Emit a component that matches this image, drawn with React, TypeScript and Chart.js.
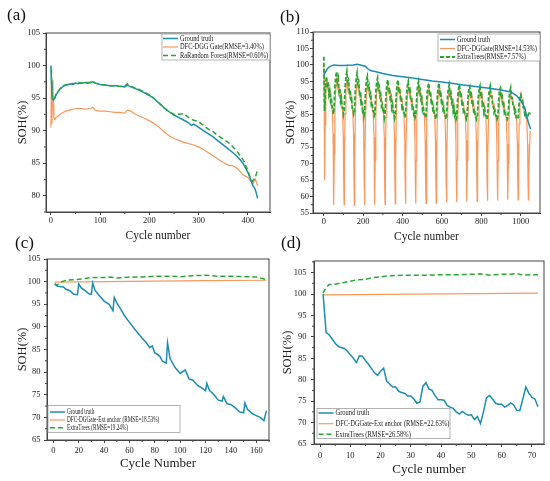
import { useEffect, useRef } from 'react';
import { Chart, registerables } from 'chart.js';
import type { ChartConfiguration, Plugin } from 'chart.js';

Chart.register(...registerables);

const BLUE = '#1b8db4';
const ORANGE = '#f8985c';
const GREEN = '#27a833';
const SERIF = '"Liberation Serif", "Times New Roman", serif';

type XY = [number, number];

// ---------- (a) ----------
const aGround: XY[] = [[0, 100], [1, 97.5], [2, 95.5], [3, 94.9], [5, 94.7], [8, 95], [10, 95.4], [13, 95.8], [16, 96.2], [20, 96.5], [25, 96.8], [30, 97], [35, 97.1], [40, 97.2], [45, 97.1], [50, 97.3], [55, 97.2], [60, 97.3], [65, 97.3], [70, 97.4], [75, 97.3], [80, 97.4], [85, 97.5], [90, 97.3], [95, 97.2], [100, 97.1], [110, 97], [120, 96.9], [130, 96.9], [140, 96.8], [150, 96.7], [155, 97], [160, 96.8], [165, 96.7], [170, 96.5], [180, 96.2], [190, 95.8], [200, 95.4], [210, 94.9], [220, 94.2], [230, 93.5], [240, 92.9], [250, 92.4], [260, 92], [270, 91.6], [280, 91.2], [285, 90.8], [290, 91], [300, 90.5], [310, 90], [320, 89.5], [330, 89], [340, 88.4], [350, 87.8], [360, 87.2], [370, 86.6], [380, 85.9], [390, 85], [400, 83.6], [405, 82.6], [410, 81.6], [415, 81], [420, 79.6]];
const aDfc: XY[] = [[0, 90.5], [1, 97.5], [2, 91], [3, 95], [4, 97.8], [5, 94], [6, 92], [8, 91.7], [10, 92], [15, 92.3], [20, 92.6], [30, 93], [40, 93.2], [50, 93.4], [60, 93.4], [70, 93.3], [80, 93.4], [85, 93.6], [90, 93.1], [100, 93], [110, 93], [120, 92.9], [130, 92.8], [140, 92.8], [150, 92.7], [155, 93.1], [160, 93.1], [170, 92.6], [180, 92.2], [190, 91.9], [200, 91.5], [210, 91.1], [220, 90.5], [230, 89.8], [240, 89.2], [250, 88.8], [260, 88.5], [270, 88.2], [280, 88], [290, 87.8], [300, 87.5], [310, 87.1], [320, 86.6], [330, 86.1], [340, 85.6], [350, 85.1], [360, 84.7], [370, 84.6], [380, 84.1], [390, 83.2], [400, 82.8], [405, 82.3], [410, 81.8], [415, 82.6], [420, 81.5]];
const aForest: XY[] = [[1, 99.5], [2, 96], [3, 95], [5, 94.8], [8, 95.1], [10, 95.6], [15, 96], [20, 96.6], [25, 96.9], [30, 97], [40, 97.2], [50, 97.3], [55, 97.5], [60, 97.3], [70, 97.4], [80, 97.4], [85, 97.6], [90, 97.3], [100, 97.1], [110, 97], [120, 96.9], [130, 96.9], [140, 96.8], [150, 96.8], [155, 97.2], [160, 96.8], [170, 96.6], [180, 96.3], [190, 95.9], [200, 95.5], [210, 94.9], [220, 94.2], [230, 93.5], [240, 92.9], [250, 92.5], [260, 92.5], [270, 92.6], [280, 92], [290, 91.6], [300, 91.4], [310, 90.8], [320, 90.2], [330, 89.8], [340, 89.2], [350, 88.7], [360, 88.2], [370, 87.5], [380, 86.6], [390, 85.6], [395, 84.8], [400, 83.8], [405, 82.8], [410, 82.2], [415, 82.8], [420, 84]];

// ---------- (b) ----------
const bGround: XY[] = [[0, 97], [10, 98], [20, 99], [30, 99.5], [50, 100], [75, 99.8], [100, 99.8], [125, 99.9], [150, 100], [170, 100.2], [190, 99.9], [210, 99.6], [225, 98.7], [240, 98.2], [260, 98], [300, 97.4], [350, 96.8], [400, 96.4], [450, 96], [500, 95.6], [550, 95.1], [600, 94.8], [650, 94.4], [700, 94], [750, 93.6], [800, 93.2], [850, 92.8], [900, 92.4], [950, 91.8], [980, 90.6], [1000, 89.2], [1020, 87], [1030, 84.5], [1040, 82.3], [1050, 80.5]];
// cycle where each deep dip of the predictions bottoms out
const bDips = [51, 103, 155, 207, 259, 311, 363, 415, 467, 519, 571, 623, 675, 727, 779, 831, 883, 935, 987, 1039];
const bDfcHead: XY[] = [[0, 100.5], [1, 96], [3, 80], [5, 65], [7, 82], [10, 92], [15, 95], [20, 93], [25, 94], [30, 91], [35, 92], [39, 89]];
const bDfcOffsets = [-8, -4, -2, 0, 2, 5, 9, 14, 19, 24, 29, 34, 39];
const bDfcRows = [
  [86, 79, 65, 57.5, 73, 85, 92, 95.5, 93, 94, 91, 92, 89],
  [86, 78, 65, 57.5, 72, 85, 92, 95.5, 92.5, 93.5, 90.5, 91.5, 88.5],
  [86, 79, 65, 57.3, 72, 84, 92, 95, 92.5, 93.5, 90, 91, 88],
  [85.5, 78, 64.5, 57.2, 72, 84, 91, 94.5, 92, 93, 89.5, 90.5, 87.5],
  [85, 78, 64.5, 57.5, 71, 84, 91, 94.5, 92, 92.5, 89.5, 90, 87.5],
  [85, 78, 65, 57.6, 72, 84, 91, 94, 91.5, 92.5, 89, 90, 87],
  [85, 78, 65, 57.8, 72, 84, 91, 94, 91.5, 92.5, 89, 90, 87],
  [84.5, 77, 64.5, 57.8, 71, 83, 90.5, 93.5, 91, 92, 88.5, 89.5, 86.5],
  [84.5, 77, 65, 57.8, 71, 83, 90.5, 93.5, 91, 92, 88.5, 89.5, 86.5],
  [84.5, 77, 65, 57.9, 71, 83, 90, 93.5, 91, 91.5, 88.5, 89, 86.5],
  [84.5, 77, 65, 58, 71, 83, 90, 93, 90.5, 91.5, 88, 89, 86],
  [84.5, 77, 65, 58.2, 71, 83, 90, 93, 90.5, 91.5, 88, 89, 86],
  [84, 77, 65, 58.3, 71, 83, 90, 93, 90.5, 91, 88, 88.5, 86],
  [84, 77, 65, 58.5, 71, 83, 89.5, 92.5, 90, 91, 87.5, 88.5, 85.5],
  [84, 77, 65, 58.5, 71, 83, 89.5, 92.5, 90, 91, 87.5, 88.5, 85.5],
  [84, 77, 65, 58.7, 71, 82, 89.5, 92.5, 90, 90.5, 87.5, 88, 85.5],
  [84, 76, 65, 58.8, 71, 82, 89, 92, 89.5, 90.5, 87, 88, 85],
  [83.5, 76, 65, 59, 70, 82, 89, 92, 89.5, 90, 87, 87.5, 85],
  [83.5, 76, 65, 59, 70, 82, 88.5, 91, 89, 89.5, 86.5, 87, 85],
  [83, 76, 65, 59, 66, 73, 80],
];
const bTreesHead: XY[] = [[0, 102.5], [1, 97], [2, 92], [4, 86], [7, 90], [10, 95], [14, 96.5], [18, 93], [22, 95], [26, 91], [30, 92], [34, 89], [38, 90], [42, 87]];
const bTreesOffsets = [-6, -3, 0, 3, 6, 10, 14, 18, 22, 26, 30, 34, 38, 42];
const bTreesRows = [
  [87, 85, 86, 90, 94, 96.5, 98, 95, 96, 92, 93, 89, 90, 87],
  [87, 85, 86, 90, 94, 96.5, 98, 95, 95.5, 92, 92.5, 89, 89.5, 86.5],
  [86.5, 85, 85.5, 89.5, 93.5, 96, 97.5, 94.5, 95, 91.5, 92, 88.5, 89, 86],
  [86.5, 84.5, 85.5, 89, 93, 95.5, 96.5, 93.5, 94, 91, 91.5, 88, 88.5, 86],
  [86, 84.5, 85, 89, 92.5, 95, 96, 93, 93.5, 90.5, 91, 87.5, 88, 85.5],
  [86, 84, 85, 88.5, 92, 94.5, 95.5, 92.5, 93, 90, 90.5, 87, 88, 85.5],
  [85.5, 84, 85, 88.5, 92, 94.5, 95.5, 92.5, 93, 90, 90.5, 87, 87.5, 85.5],
  [85.5, 84, 85, 88, 91.5, 94, 95, 92, 92.5, 89.5, 90, 87, 87.5, 85],
  [85.5, 84, 84.5, 88, 91.5, 94, 95, 92, 92.5, 89.5, 90, 86.5, 87.5, 85],
  [85, 84, 84.5, 88, 91.5, 93.5, 94.5, 91.5, 92, 89, 89.5, 86.5, 87, 85],
  [85, 83.5, 84.5, 87.5, 91, 93.5, 94.5, 91.5, 92, 89, 89.5, 86.5, 87, 85],
  [85, 83.5, 84.5, 87.5, 91, 93, 94, 91, 91.5, 88.5, 89, 86, 87, 84.5],
  [85, 83.5, 84, 87.5, 91, 93, 94, 91, 91.5, 88.5, 89, 86, 86.5, 84.5],
  [84.5, 83.5, 84, 87, 90.5, 93, 93.5, 90.5, 91, 88, 88.5, 86, 86.5, 84.5],
  [84.5, 83.5, 84, 87, 90.5, 92.5, 93.5, 90.5, 91, 88, 88.5, 85.5, 86.5, 84.5],
  [84.5, 83.5, 84, 87, 90.5, 92.5, 93.5, 90.5, 90.5, 88, 88, 85.5, 86, 84.5],
  [84.5, 83.5, 84, 86.5, 90, 92.5, 93, 90, 90.5, 87.5, 88, 85.5, 86, 84.5],
  [84.5, 83.5, 84, 86.5, 90, 92, 93, 90, 90, 87.5, 87.5, 85.5, 86, 84],
  [84, 83.5, 84, 86.5, 89, 90.5, 91, 89.5, 89, 87, 87, 85, 85.5, 84],
  [84, 84.5, 85, 85.5, 85, 85.5],
];

// ---------- (c) ----------
const cGround: XY[] = [[1, 99.5], [3, 99], [5, 98.9], [8, 98.8], [10, 98.3], [13, 98], [16, 97.2], [19, 97.1], [20, 99.5], [22, 98.6], [25, 98], [28, 97.3], [30, 97.2], [31, 99.7], [33, 98], [36, 97], [40, 95.7], [44, 95], [47, 93.6], [48, 96.5], [50, 95.3], [53, 94], [56, 92.5], [60, 91], [65, 89.2], [70, 87.5], [73, 86.6], [76, 85.4], [78, 85.8], [80, 84.3], [84, 83.5], [86, 82.4], [89, 82], [90, 86.5], [92, 83], [96, 81], [100, 79.7], [104, 80.5], [107, 78.5], [110, 78.2], [114, 77], [117, 76.5], [120, 75.9], [121, 77.5], [123, 76], [127, 74.9], [130, 73.8], [133, 73.6], [134, 74.6], [137, 73], [140, 72.8], [143, 72.2], [147, 71.2], [150, 71], [151, 73.2], [153, 71.8], [157, 70.8], [160, 70.4], [163, 70], [166, 69.3], [168, 71.5]];
const cDfc: XY[] = [[1, 99.9], [40, 100], [80, 100.1], [120, 100.2], [168, 100.3]];
const cTrees: XY[] = [[1, 99.5], [3, 99.2], [5, 99.8], [10, 100.3], [15, 100.4], [20, 100.5], [25, 100.7], [30, 100.9], [40, 100.9], [45, 101], [50, 100.8], [55, 100.9], [60, 101], [70, 101], [80, 101.2], [90, 101.2], [100, 101.1], [110, 101.3], [120, 101.4], [130, 101.2], [140, 101.2], [150, 101.1], [160, 101], [165, 100.7], [168, 100.4]];

// ---------- (d) ----------
const dGround: XY[] = [[1, 100], [2, 91], [3, 90.5], [4, 89.5], [5, 88.5], [6, 87.8], [7, 87.5], [8, 87.3], [9, 86.7], [10, 85.8], [11, 85], [12, 84], [13, 85.6], [14, 85.5], [15, 84.5], [16, 83.6], [17, 82.6], [18, 81.6], [19, 81], [20, 82], [21, 82.7], [22, 79.7], [23, 79], [24, 78.3], [25, 78.3], [26, 77.3], [27, 77], [28, 76.8], [29, 76.2], [30, 76.2], [31, 75.5], [32, 74.5], [33, 74.8], [34, 78.5], [35, 79.3], [36, 77.8], [37, 77.5], [38, 76.3], [39, 75.3], [40, 75.3], [41, 75.2], [42, 74], [43, 73.6], [44, 73.3], [45, 72.5], [46, 72], [47, 72.6], [48, 72.1], [49, 71.7], [50, 71.8], [51, 70.7], [52, 71.4], [53, 69.8], [54, 72.5], [55, 75.8], [56, 76.3], [57, 75.5], [58, 74.5], [59, 74.3], [60, 74.3], [61, 73.6], [62, 74], [63, 74.6], [64, 74.1], [65, 72.9], [66, 72.8], [67, 75.5], [68, 78.3], [69, 76.8], [70, 75.9], [71, 75.5], [72, 73.7]];
const dDfc: XY[] = [[1, 99.8], [72, 100.2]];
const dTrees: XY[] = [[1, 100.2], [2, 101.5], [3, 102.2], [5, 102.3], [8, 102.7], [10, 103], [12, 103.3], [15, 103.4], [17, 103.8], [20, 104], [22, 104.2], [25, 104.3], [30, 104.4], [35, 104.4], [40, 104.5], [45, 104.5], [50, 104.6], [53, 104.7], [56, 104.4], [60, 104.6], [63, 104.6], [65, 104.8], [67, 104.4], [70, 104.5], [72, 104.5]];

function withDips(head: XY[], offsets: number[], rows: number[][]): XY[] {
  const pts: XY[] = [...head];
  rows.forEach((row, i) => {
    row.forEach((y, j) => pts.push([bDips[i] + offsets[j], y]));
  });
  return pts;
}

interface Series { label: string; color: string; width: number; dash?: number[]; order: number; points: XY[] }
interface LegendBox { x: number; y: number; w: number; h: number; rows: number[]; line: [number, number]; textX: number; size: number; squeeze: number }
interface PanelSpec {
  series: Series[];
  x: { min: number; max: number; step: number; title: string; titleSize: number; titlePad: number; tickPad: number; height: number };
  y: { min: number; max: number; step: number; titlePad: number; tickPad: number; width: number };
  pad: { top: number; right: number };
  legend: LegendBox;
}

const framePlugin: Plugin<'line'> = {
  id: 'frame',
  afterDraw(chart) {
    const { ctx, chartArea: a } = chart;
    const xs = chart.scales.x;
    const ys = chart.scales.y;
    ctx.save();
    ctx.strokeStyle = '#444';
    ctx.lineWidth = 1;
    ctx.strokeRect(a.left, a.top, a.right - a.left, a.bottom - a.top);
    // minor ticks halfway between the labelled ones
    ctx.beginPath();
    const xStep = xs.ticks[1].value - xs.ticks[0].value;
    for (let v = xs.ticks[0].value - xStep / 2; v <= xs.max; v += xStep) {
      if (v < xs.min) continue;
      const px = xs.getPixelForValue(v);
      ctx.moveTo(px, a.bottom);
      ctx.lineTo(px, a.bottom + 2);
    }
    const yStep = ys.ticks[1].value - ys.ticks[0].value;
    for (let v = ys.ticks[0].value - yStep / 2; v <= ys.max; v += yStep) {
      if (v < ys.min) continue;
      const py = ys.getPixelForValue(v);
      ctx.moveTo(a.left, py);
      ctx.lineTo(a.left - 2, py);
    }
    ctx.stroke();
    ctx.restore();
  },
};

function boxLegend(box: LegendBox): Plugin<'line'> {
  return {
    id: 'boxLegend',
    afterDraw(chart) {
      const { ctx } = chart;
      ctx.save();
      ctx.fillStyle = '#fff';
      ctx.fillRect(box.x, box.y, box.w, box.h);
      ctx.strokeStyle = '#a0a0a0';
      ctx.lineWidth = 0.8;
      ctx.strokeRect(box.x, box.y, box.w, box.h);
      chart.data.datasets.forEach((ds: any, i) => {
        const y = box.rows[i];
        ctx.strokeStyle = ds.borderColor;
        ctx.lineWidth = ds.borderWidth;
        ctx.setLineDash(ds.borderDash || []);
        ctx.beginPath();
        ctx.moveTo(box.line[0], y);
        ctx.lineTo(box.line[1], y);
        ctx.stroke();
        ctx.setLineDash([]);
        ctx.save();
        ctx.translate(box.textX, y);
        ctx.scale(box.squeeze, 1);
        ctx.fillStyle = '#222';
        ctx.font = `${box.size}px ${SERIF}`;
        ctx.textBaseline = 'middle';
        ctx.fillText(ds.label, 0, 0);
        ctx.restore();
      });
      ctx.restore();
    },
  };
}

function makeConfig(p: PanelSpec): ChartConfiguration<'line'> {
  const tickFont = { family: SERIF, size: 8.5 };
  const plain = (v: string | number) => String(v);
  return {
    type: 'line',
    data: {
      datasets: p.series.map(s => ({
        label: s.label,
        data: s.points.map(([x, y]) => ({ x, y })),
        borderColor: s.color,
        backgroundColor: s.color,
        borderWidth: s.width,
        borderDash: s.dash ?? [],
        pointRadius: 0,
        tension: 0,
        order: s.order,
      })),
    },
    options: {
      animation: false,
      responsive: true,
      maintainAspectRatio: false,
      layout: { padding: { left: 0, top: p.pad.top, right: p.pad.right, bottom: 0 } },
      plugins: { legend: { display: false }, tooltip: { enabled: false } },
      scales: {
        x: {
          type: 'linear',
          min: p.x.min,
          max: p.x.max,
          ticks: { stepSize: p.x.step, includeBounds: false, padding: p.x.tickPad, font: tickFont, color: '#222', maxRotation: 0, callback: plain },
          grid: { drawOnChartArea: false, tickLength: 3, color: '#444' },
          border: { display: true, color: '#444' },
          title: { display: true, text: p.x.title, color: '#222', font: { family: SERIF, size: p.x.titleSize }, padding: { top: 0, bottom: p.x.titlePad } },
          afterFit: (s: any) => { s.height = p.x.height; },
        },
        y: {
          type: 'linear',
          min: p.y.min,
          max: p.y.max,
          ticks: { stepSize: p.y.step, includeBounds: false, padding: p.y.tickPad, font: tickFont, color: '#222', callback: plain },
          grid: { drawOnChartArea: false, tickLength: 3, color: '#444' },
          border: { display: true, color: '#444' },
          title: { display: true, text: 'SOH(%)', color: '#222', font: { family: SERIF, size: 12.5 }, padding: { top: p.y.titlePad, bottom: 0 } },
          afterFit: (s: any) => { s.width = p.y.width; },
        },
      },
    },
    plugins: [framePlugin, boxLegend(p.legend)],
  };
}

const panelA: PanelSpec = {
  series: [
    { label: 'Ground truth', color: BLUE, width: 1.5, order: 1, points: aGround },
    { label: 'DFC-DGG Gate(RMSE=3.40%)', color: ORANGE, width: 1.2, order: 2, points: aDfc },
    { label: 'RaRandom Forest(RMSE=0.60%)', color: GREEN, width: 1.5, dash: [5, 3], order: 0, points: aForest },
  ],
  x: { min: -10, max: 445, step: 100, title: 'Cycle number', titleSize: 11.5, titlePad: 2, tickPad: 1, height: 33 },
  y: { min: 77.5, max: 105, step: 5, titlePad: 15, tickPad: 3, width: 46 },
  pad: { top: 33, right: 5 },
  legend: { x: 162, y: 34, w: 108, h: 26, rows: [38.5, 47, 55.5], line: [163, 178], textX: 180, size: 8, squeeze: 0.8 },
};

const panelB: PanelSpec = {
  series: [
    { label: 'Ground truth', color: BLUE, width: 1.5, order: 0, points: bGround },
    { label: 'DFC-DGGate(RMSE=14.53%)', color: ORANGE, width: 1.2, order: 2, points: withDips(bDfcHead, bDfcOffsets, bDfcRows) },
    { label: 'ExtraTrees(RMSE=7.57%)', color: GREEN, width: 1.8, dash: [4, 2], order: 1, points: withDips(bTreesHead, bTreesOffsets, bTreesRows) },
  ],
  x: { min: -55, max: 1098, step: 200, title: 'Cycle number', titleSize: 11.5, titlePad: 1, tickPad: 1, height: 32 },
  y: { min: 55, max: 110, step: 5, titlePad: 8, tickPad: 1, width: 38 },
  pad: { top: 32, right: 10 },
  legend: { x: 163, y: 34, w: 102, h: 27, rows: [39.5, 48.5, 57], line: [165, 180], textX: 182, size: 8, squeeze: 0.79 },
};

const panelC: PanelSpec = {
  series: [
    { label: 'Ground truth', color: BLUE, width: 1.5, order: 0, points: cGround },
    { label: 'DFC-DGGate-Ext anchor (RMSE=18.53%)', color: ORANGE, width: 1.2, order: 2, points: cDfc },
    { label: 'ExtraTrees (RMSE=19.24%)', color: GREEN, width: 1.5, dash: [5, 3], order: 1, points: cTrees },
  ],
  x: { min: -5, max: 170, step: 20, title: 'Cycle Number', titleSize: 13, titlePad: 10, tickPad: 3, height: 41 },
  y: { min: 65, max: 105, step: 5, titlePad: 15.5, tickPad: 3.5, width: 47 },
  pad: { top: 14, right: 6 },
  legend: { x: 48, y: 160.5, w: 132, h: 27, rows: [167, 175, 182.7], line: [50, 65], textX: 67, size: 7.5, squeeze: 0.7 },
};

const panelD: PanelSpec = {
  series: [
    { label: 'Ground truth', color: BLUE, width: 1.5, order: 0, points: dGround },
    { label: 'DFC-DGGate-Ext anchor (RMSE=22.63%)', color: ORANGE, width: 1.2, order: 2, points: dDfc },
    { label: 'ExtraTrees (RMSE=26.58%)', color: GREEN, width: 1.5, dash: [5, 3], order: 1, points: dTrees },
  ],
  x: { min: -2, max: 74, step: 10, title: 'Cycle number', titleSize: 13, titlePad: 4, tickPad: 4, height: 37 },
  y: { min: 65, max: 107.7, step: 5, titlePad: 5.5, tickPad: 4.5, width: 39 },
  pad: { top: 16, right: 6 },
  legend: { x: 42, y: 163.5, w: 133, h: 30, rows: [168, 178.7, 189.3], line: [43.5, 58.5], textX: 60.5, size: 9, squeeze: 0.72 },
};

function Panel({ spec, left, top, width, height }: { spec: PanelSpec; left: number; top: number; width: number; height: number }) {
  const canvasRef = useRef<HTMLCanvasElement>(null);
  const chartRef = useRef<Chart<'line'> | null>(null);

  useEffect(() => {
    if (!canvasRef.current) return;
    if (chartRef.current) chartRef.current.destroy();
    chartRef.current = new Chart(canvasRef.current, makeConfig(spec));
    return () => {
      chartRef.current?.destroy();
      chartRef.current = null;
    };
  }, [spec]);

  return (
    <div style={{ position: 'absolute', left, top, width, height }}>
      <canvas ref={canvasRef} />
    </div>
  );
}

const labelStyle = { position: 'absolute' as const, fontFamily: SERIF, fontSize: 17, lineHeight: '17px', color: '#111' };

export default function App() {
  return (
    <div style={{ position: 'fixed', left: 0, top: 0, width: 550, height: 481, background: '#fff', overflow: 'hidden' }}>
      <Panel spec={panelA} left={0} top={0} width={275} height={245} />
      <Panel spec={panelB} left={275} top={0} width={275} height={245} />
      <Panel spec={panelC} left={0} top={245} width={275} height={236} />
      <Panel spec={panelD} left={275} top={245} width={275} height={236} />
      <div style={{ ...labelStyle, left: 7, top: 5.5 }}>(a)</div>
      <div style={{ ...labelStyle, left: 280, top: 7.5 }}>(b)</div>
      <div style={{ ...labelStyle, left: 15, top: 233.5 }}>(c)</div>
      <div style={{ ...labelStyle, left: 281, top: 233.5 }}>(d)</div>
    </div>
  );
}
